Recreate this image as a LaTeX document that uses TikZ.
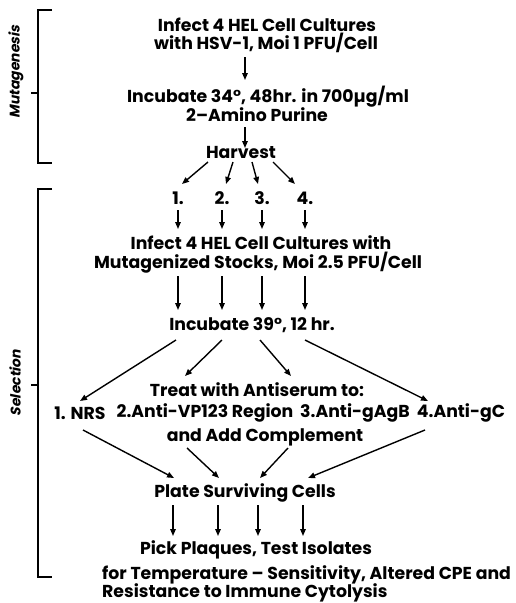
\documentclass[tikz,border=0pt]{standalone}
\usepackage{fontspec}
\setmainfont{Poppins}
\newfontfamily\slfont[FakeSlant=0.2]{Poppins}
\usetikzlibrary{arrows.meta}
\begin{document}
\begin{tikzpicture}[x=1pt,y=-1pt,
  txt/.style={inner sep=0pt, font=\bfseries\fontsize{17.3}{20}\selectfont},
  side/.style={inner sep=0pt, rotate=90, font=\slfont\bfseries\fontsize{14}{16}\selectfont},
  arr/.style={line width=1.4pt, -{Triangle[length=7pt,width=5.5pt]}},
  brk/.style={line width=1.4pt},
  ]
\useasboundingbox[fill=white] (0,0) rectangle (516,603);

% text nodes
\node[txt] (l1a) at (267,25) {Infect 4 HEL Cell Cultures};
\node[txt] (l1b) at (266,43) {with HSV-1, Moi 1 PFU/Cell};
\node[txt] (l2a) at (268,97) {Incubate 34°, 48hr. in 700µg/ml};
\node[txt] (l2b) at (257,115) {2–Amino Purine};
\node[txt] (harv) at (241,152) {Harvest};
\node[txt] (n1) at (178,198) {1.};
\node[txt] (n2) at (222,198) {2.};
\node[txt] (n3) at (262,198) {3.};
\node[txt] (n4) at (305,198) {4.};
\node[txt] (l3a) at (261,243) {Infect 4 HEL Cell Cultures with};
\node[txt] (l3b) at (258,263) {Mutagenized Stocks, Moi 2.5 PFU/Cell};
\node[txt] (inc2) at (252,325) {Incubate 39°, 12 hr.};
\node[txt] (treat) at (257,390) {Treat with Antiserum to:};
\node[txt] (nrs) at (80,413) {1. NRS};
\node[txt] (vp) at (205,413) {2.Anti-VP123 Region};
\node[txt] (gab) at (355,413) {3.Anti-gAgB};
\node[txt] (gc) at (461,413) {4.Anti-gC};
\node[txt] (cmp) at (265,437) {and Add Complement};
\node[txt] (plate) at (245,493) {Plate Surviving Cells};
\node[txt] (pick) at (256,550) {Pick Plaques, Test Isolates};
\node[txt, anchor=west] (t1) at (102,575) {for Temperature – Sensitivity, Altered CPE and};
\node[txt, anchor=west] (t2) at (102,593) {Resistance to Immune Cytolysis};

% side labels and brackets
\node[side] (mut) at (16,72) {Mutagenesis};
\node[side] (sel) at (15,383) {Selection};
\draw[brk] (52,10) -- (38,10) -- (38,163) -- (52,163);
\draw[brk] (31,93) -- (38,93);
\draw[brk] (52,189) -- (38,189) -- (38,577) -- (52,577);
\draw[brk] (31,385) -- (38,385);

% arrow end points
\coordinate (a1s) at (245,57);  \coordinate (a1e) at (245,80);
\coordinate (a2s) at (245,127); \coordinate (a2e) at (245,148);
\coordinate (h1s) at (208,162); \coordinate (h1e) at (182,184);
\coordinate (h2s) at (233,162); \coordinate (h2e) at (226,184);
\coordinate (h3s) at (252,162); \coordinate (h3e) at (258,184);
\coordinate (h4s) at (273,162); \coordinate (h4e) at (295,184);
\foreach \i/\x in {1/178,2/222,3/262,4/305}{
  \coordinate (s\i) at (\x,210); \coordinate (e\i) at (\x,229);
  \coordinate (ls\i) at (\x,276); \coordinate (le\i) at (\x,310);
}
\coordinate (i1s) at (176,340); \coordinate (i1e) at (80,401);
\coordinate (i2s) at (222,340); \coordinate (i2e) at (185,376);
\coordinate (i3s) at (260,340); \coordinate (i3e) at (291,376);
\coordinate (i4s) at (305,340); \coordinate (i4e) at (428,401);
\coordinate (p1s) at (83,430);  \coordinate (p1e) at (174,478);
\coordinate (p2s) at (187,448); \coordinate (p2e) at (219,478);
\coordinate (p3s) at (288,448); \coordinate (p3e) at (260,478);
\coordinate (p4s) at (425,430); \coordinate (p4e) at (308,478);
\foreach \i/\x in {1/173,2/218,3/258,4/303}{
  \coordinate (q\i s) at (\x,505); \coordinate (q\i e) at (\x,536);
}

% arrows
\draw[arr] (a1s) -- (a1e);
\draw[arr] (a2s) -- (a2e);
\foreach \i in {1,2,3,4}{
  \draw[arr] (h\i s) -- (h\i e);
  \draw[arr] (s\i) -- (e\i);
  \draw[arr] (ls\i) -- (le\i);
  \draw[arr] (i\i s) -- (i\i e);
  \draw[arr] (p\i s) -- (p\i e);
  \draw[arr] (q\i s) -- (q\i e);
}
\end{tikzpicture}
\end{document}
